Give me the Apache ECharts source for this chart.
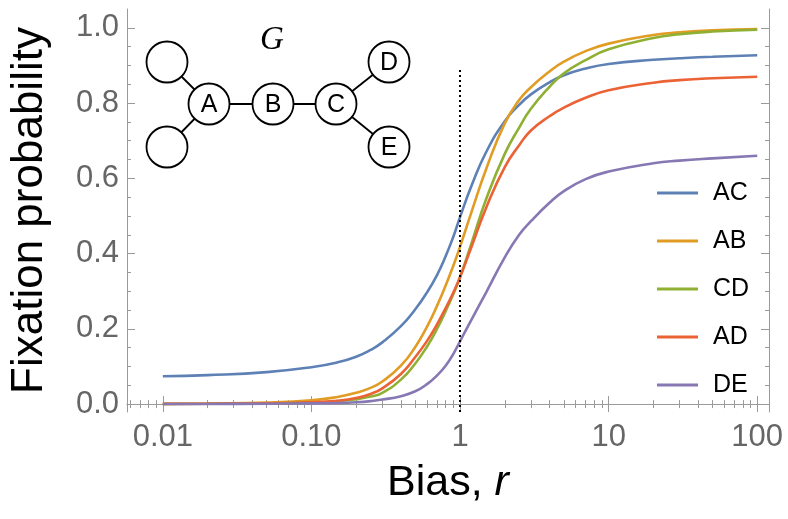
<!DOCTYPE html>
<html>
<head>
<meta charset="utf-8">
<script src="https://cdn.jsdelivr.net/npm/echarts@6/dist/echarts.min.js"></script>
<style>
  html, body { margin: 0; padding: 0; background: #fff; }
  #chart { width: 788px; height: 519px; }
</style>
</head>
<body>
<div id="chart"></div>
<script>
// bias values r (log axis) and the fixation probability read for each edge
var biasR = [0.01, 0.02, 0.05, 0.1, 0.15, 0.2, 0.25, 0.3, 0.4, 0.5, 0.6, 0.7, 0.8, 0.9, 1,
             1.2, 1.5, 2, 2.5, 3, 4, 5, 7, 10, 20, 30, 50, 100];
var fixAC = [0.074, 0.077, 0.085, 0.098, 0.111, 0.126, 0.144, 0.164, 0.207, 0.252, 0.297, 0.343, 0.393, 0.444, 0.497,
             0.582, 0.670, 0.752, 0.795, 0.823, 0.855, 0.874, 0.892, 0.904, 0.915, 0.919, 0.923, 0.927];
var fixAB = [0.0008, 0.0015, 0.004, 0.010, 0.019, 0.030, 0.043, 0.060, 0.102, 0.152, 0.206, 0.261, 0.315, 0.367, 0.418,
             0.513, 0.625, 0.746, 0.808, 0.842, 0.884, 0.910, 0.938, 0.958, 0.981, 0.988, 0.9935, 0.997];
var fixCD = [0.0004, 0.0008, 0.002, 0.004, 0.008, 0.013, 0.020, 0.030, 0.065, 0.108, 0.153, 0.200, 0.247, 0.292, 0.337,
             0.430, 0.545, 0.665, 0.735, 0.785, 0.843, 0.879, 0.914, 0.943, 0.973, 0.983, 0.990, 0.995];
var fixAD = [0.0005, 0.001, 0.002, 0.005, 0.009, 0.016, 0.027, 0.042, 0.080, 0.125, 0.168, 0.212, 0.255, 0.296, 0.337,
             0.420, 0.522, 0.630, 0.688, 0.727, 0.765, 0.788, 0.814, 0.834, 0.854, 0.861, 0.866, 0.870];
var fixDE = [0.0002, 0.0003, 0.001, 0.002, 0.003, 0.005, 0.008, 0.012, 0.021, 0.034, 0.053, 0.076, 0.102, 0.133, 0.167,
             0.226, 0.297, 0.390, 0.450, 0.486, 0.535, 0.566, 0.598, 0.618, 0.640, 0.647, 0.653, 0.660];
var seriesNames = ['AC', 'AB', 'CD', 'AD', 'DE'];

var xMajor = [0.01, 0.1, 1, 10, 100];
var xMajorLabels = ['0.01', '0.10', '1', '10', '100'];
var yMajor = [0, 0.2, 0.4, 0.6, 0.8, 1.0];
var yMajorLabels = ['0.0', '0.2', '0.4', '0.6', '0.8', '1.0'];

var biasMark = 1;        // dotted line at r = 1
var biasMarkTop = 0.895;

// ---- style ----
var colors = ['#5e81b5', '#e19c24', '#8fb032', '#eb6235', '#8778b3'];
var sans = 'Liberation Sans, Arial, sans-serif';
var frameColor = '#9a9a9a';
var xMin = 0.00574, xMax = 120;
var yMin = -0.021, yMax = 1.05;

// minor ticks: 2..9 in each decade, 0.05 steps on y
var xMinor = [];
[0.001, 0.01, 0.1, 1, 10, 100].forEach(function (d) {
  for (var m = 2; m <= 9; m++) {
    var v = +(m * d).toPrecision(6);
    if (v > xMin && v < xMax) xMinor.push(v);
  }
});
var yMinor = [];
for (var k = 0; k <= 20; k++) {
  if (k % 4 !== 0) yMinor.push(+(k * 0.05).toFixed(2));
}

function xAx(pos, ticks, len, withLabels, showLine) {
  return {
    type: 'log', position: pos, min: xMin, max: xMax,
    axisLine: { show: showLine, lineStyle: { color: frameColor, width: 1 } },
    axisTick: { show: true, inside: true, length: len, customValues: ticks,
                lineStyle: { color: frameColor, width: 1 } },
    axisLabel: withLabels ? {
      show: true, customValues: xMajor, margin: 10, color: '#666',
      fontSize: 31, fontFamily: sans,
      formatter: function (v) {
        var i = xMajor.findIndex(function (m) { return Math.abs(Math.log10(m) - Math.log10(v)) < 1e-6; });
        return i >= 0 ? xMajorLabels[i] : '';
      }
    } : { show: false },
    splitLine: { show: false }, minorTick: { show: false }
  };
}
function yAx(pos, ticks, len, withLabels, showLine) {
  return {
    type: 'value', position: pos, min: yMin, max: yMax,
    axisLine: { show: showLine, lineStyle: { color: frameColor, width: 1 } },
    axisTick: { show: true, inside: true, length: len, customValues: ticks,
                lineStyle: { color: frameColor, width: 1 } },
    axisLabel: withLabels ? {
      show: true, customValues: yMajor, margin: 8, color: '#666',
      fontSize: 31, fontFamily: sans,
      formatter: function (v) {
        var i = yMajor.findIndex(function (m) { return Math.abs(m - v) < 1e-6; });
        return i >= 0 ? yMajorLabels[i] : '';
      }
    } : { show: false },
    splitLine: { show: false }
  };
}

var xAxes = [
  xAx('bottom', xMajor, 8, true, true),
  xAx('bottom', xMinor, 4, false, false),
  xAx('top', xMajor, 8, false, true),
  xAx('top', xMinor, 4, false, false)
];
xAxes[0].name = 'Bias, {i|r}';
xAxes[0].nameLocation = 'middle';
xAxes[0].nameGap = 50;
xAxes[0].nameTextStyle = { fontSize: 43, fontFamily: sans, color: '#000',
  rich: { i: { fontSize: 43, fontFamily: sans, fontStyle: 'italic', color: '#000' } } };

var yAxes = [
  yAx('left', yMajor, 8, true, true),
  yAx('left', yMinor, 4, false, false),
  yAx('right', yMajor, 8, false, true),
  yAx('right', yMinor, 4, false, false)
];
yAxes[0].name = 'Fixation probability';
yAxes[0].nameLocation = 'middle';
yAxes[0].nameGap = 75;
yAxes[0].nameTextStyle = { fontSize: 44, fontFamily: sans, color: '#000' };

var fixSets = [fixAC, fixAB, fixCD, fixAD, fixDE];
var series = seriesNames.map(function (name, i) {
  return {
    name: name, type: 'line', xAxisIndex: 0, yAxisIndex: 0,
    smooth: 0.5, showSymbol: false, symbol: 'none',
    data: biasR.map(function (r, j) { return [r, fixSets[i][j]]; }),
    lineStyle: { width: 2.6, color: colors[i] },
    itemStyle: { color: colors[i] },
    emphasis: { disabled: true }
  };
});
series[0].markLine = {
  silent: true, symbol: 'none', label: { show: false },
  lineStyle: { color: '#000', type: [2, 3], width: 2 },
  data: [[{ coord: [biasMark, yMin] }, { coord: [biasMark, biasMarkTop] }]]
};

// inset: the graph G
var nodes = [
  { t: '', x: 167, y: 62 }, { t: '', x: 167, y: 147 },
  { t: 'A', x: 209, y: 104 }, { t: 'B', x: 273, y: 104 }, { t: 'C', x: 336, y: 104 },
  { t: 'D', x: 389, y: 62 }, { t: 'E', x: 389, y: 147 }
];
var edges = [[0, 2], [1, 2], [2, 3], [3, 4], [4, 5], [4, 6]];
var graphic = [];
edges.forEach(function (e) {
  graphic.push({ type: 'line', z: 100,
    shape: { x1: nodes[e[0]].x, y1: nodes[e[0]].y, x2: nodes[e[1]].x, y2: nodes[e[1]].y },
    style: { stroke: '#000', lineWidth: 1.8 } });
});
nodes.forEach(function (n) {
  graphic.push({ type: 'circle', z: 101, shape: { cx: n.x, cy: n.y, r: 20.5 },
    style: { fill: '#fff', stroke: '#000', lineWidth: 1.8 } });
  if (n.t) graphic.push({ type: 'text', z: 102, x: n.x, y: n.y + 1,
    style: { text: n.t, fill: '#000', font: '25px ' + sans, align: 'center', verticalAlign: 'middle' } });
});
graphic.push({ type: 'text', z: 102, x: 272, y: 40,
  style: { text: 'G', fill: '#000', font: 'italic 33px Liberation Serif, Times New Roman, serif',
           align: 'center', verticalAlign: 'middle' } });

var chart = echarts.init(document.getElementById('chart'), null, { renderer: 'canvas' });
chart.setOption({
  animation: false,
  backgroundColor: '#fff',
  grid: { left: 116, right: 19, top: 9, bottom: 107, containLabel: false },
  legend: {
    orient: 'vertical', left: 657, top: 178, padding: 0,
    icon: 'rect', itemWidth: 41, itemHeight: 3, itemGap: 18,
    selectedMode: false,
    textStyle: { fontSize: 25, fontFamily: sans, color: '#000', lineHeight: 30, padding: [0, 0, 0, 10] },
    data: seriesNames
  },
  xAxis: xAxes,
  yAxis: yAxes,
  series: series,
  graphic: graphic
});
</script>
</body>
</html>
